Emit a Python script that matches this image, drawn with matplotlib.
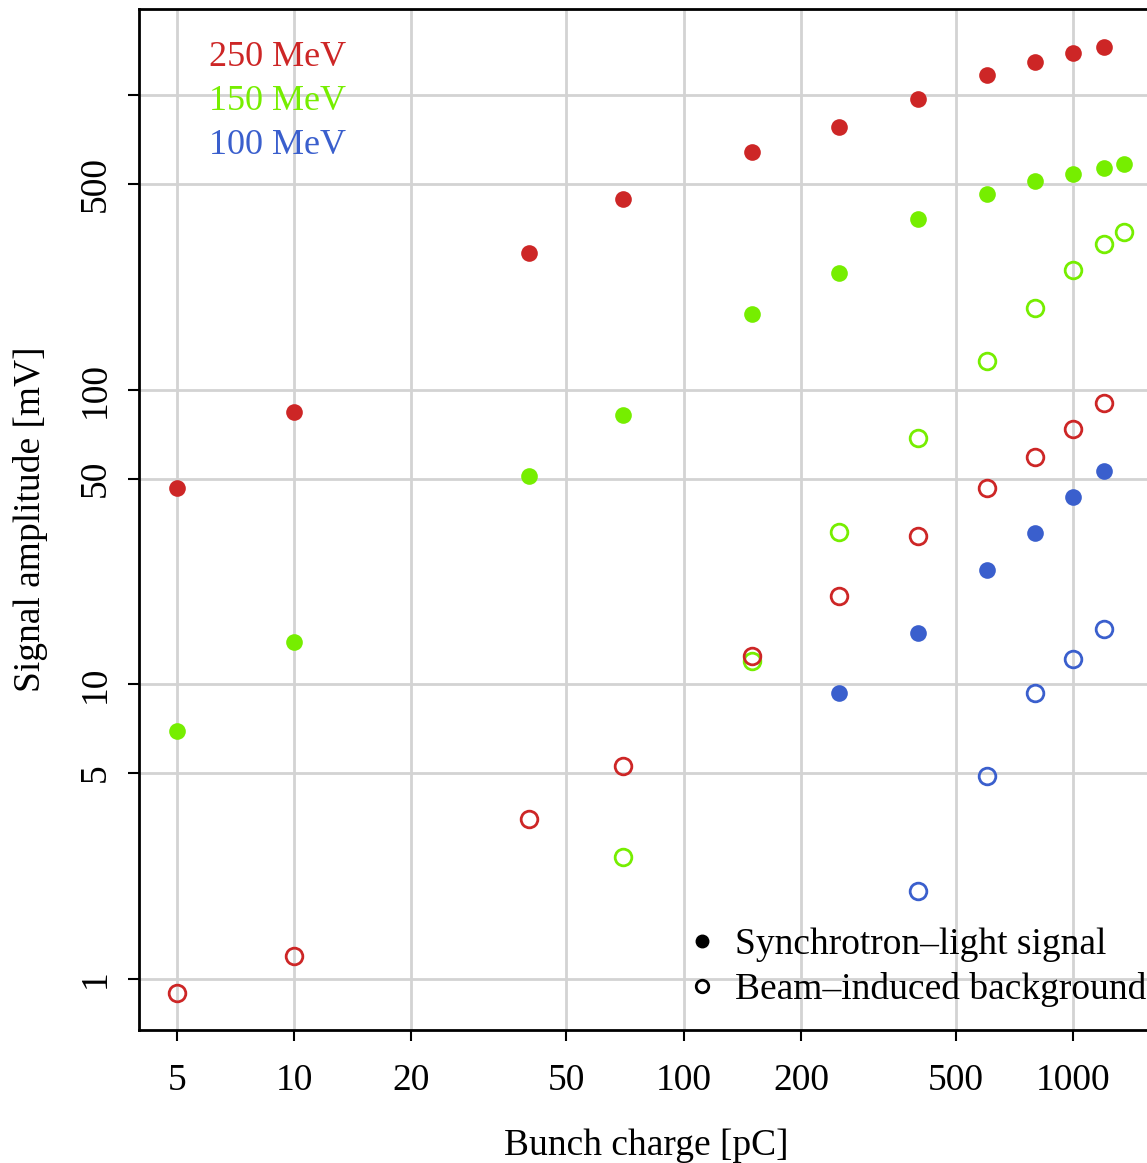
import numpy as np
import matplotlib.pyplot as plt

plt.rcParams['font.family'] = ['Liberation Serif', 'DejaVu Serif']

# Cores (R: firebrick3, chartreuse2, royalblue3)
c250 = '#CD2626'
c150 = '#76EE00'
c100 = '#3A5FCD'

# Dados: carga [pC] e amplitude [mV]
q250 = [5, 10, 40, 70, 150, 250, 400, 600, 800, 1000, 1200]
sig250 = [46.5, 84, 292, 445, 643, 782, 973, 1174, 1300, 1394, 1461]
bg250 = [0.896, 1.2, 3.49, 5.29, 12.5, 20.0, 31.9, 46.5, 59.3, 73.7, 90.3]

q150 = [5, 10, 40, 70, 150, 250, 400, 600, 800, 1000, 1200, 1350]
sig150 = [6.95, 13.9, 51.1, 82.3, 181, 250, 381, 463, 513, 541, 567, 585]
q150_bg = [70, 150, 250, 400, 600, 800, 1000, 1200, 1350]
bg150 = [2.60, 12.0, 32.9, 68.7, 125.4, 190, 255, 313, 344]

q100 = [250, 400, 600, 800, 1000, 1200]
sig100 = [9.36, 14.96, 24.5, 32.7, 43.3, 53.1]
q100_bg = [400, 600, 800, 1000, 1200]
bg100 = [1.99, 4.89, 9.36, 12.2, 15.4]

xticks = [5, 10, 20, 50, 100, 200, 500, 1000]
yticks = [1, 5, 10, 50, 100, 500, 1000]
ytick_labels = ['1', '5', '10', '50', '100', '500', '']

fs = 27
ms = 12

fig = plt.figure(figsize=(11.47, 11.63), dpi=100)
ax = fig.add_axes([0.1212, 0.1144, 0.8838, 0.8779])

for x in xticks:
    ax.axvline(x, color='#D3D3D3', lw=2, zorder=0)
for y in yticks:
    ax.axhline(y, color='#D3D3D3', lw=2, zorder=0)

# Fundo induzido (abertos) e sinal (cheios)
ax.plot(q150_bg, bg150, 'o', ms=ms, mfc='none', mec=c150, mew=2)
ax.plot(q100_bg, bg100, 'o', ms=ms, mfc='none', mec=c100, mew=2)
ax.plot(q250, bg250, 'o', ms=ms, mfc='none', mec=c250, mew=2)
ax.plot(q250, sig250, 'o', ms=ms, color=c250, mec='none')
ax.plot(q150, sig150, 'o', ms=ms, color=c150, mec='none')
ax.plot(q100, sig100, 'o', ms=ms, color=c100, mec='none')

ax.set_xscale('log')
ax.set_yscale('log')
ax.set_xlim(3.995, 1601)
ax.set_ylim(0.671, 1967)
ax.minorticks_off()
ax.set_xticks(xticks)
ax.set_xticklabels([str(x) for x in xticks])
ax.set_yticks(yticks)
ax.set_yticklabels(ytick_labels, rotation=90, va='center')
ax.tick_params(axis='both', which='major', labelsize=fs, length=8, width=1.5,
               direction='out')
ax.tick_params(axis='x', pad=16)
ax.tick_params(axis='y', pad=11)
for s in ax.spines.values():
    s.set_linewidth(2)

ax.set_xlabel('Bunch charge [pC]', fontsize=fs, labelpad=22)
ax.set_ylabel('Signal amplitude [mV]', fontsize=fs, labelpad=22)

# Rótulos de energia no canto superior esquerdo
ax.text(0.204, 0.952, '250 MeV', color=c250, fontsize=26, ha='right', va='center',
        transform=ax.transAxes)
ax.text(0.204, 0.909, '150 MeV', color=c150, fontsize=26, ha='right', va='center',
        transform=ax.transAxes)
ax.text(0.204, 0.866, '100 MeV', color=c100, fontsize=26, ha='right', va='center',
        transform=ax.transAxes)

# Legenda dos símbolos
ax.plot([], [], 'o', color='black', ms=9, label='Synchrotron\u2013light signal')
ax.plot([], [], 'o', mfc='none', mec='black', mew=2, ms=9,
        label='Beam\u2013induced background')
handles, labels = ax.get_legend_handles_labels()
ax.legend(handles[-2:], labels[-2:], loc='lower left', bbox_to_anchor=(0.507, -0.007),
          frameon=False, fontsize=fs, handletextpad=0.4, labelspacing=0.26,
          handlelength=1.0, borderpad=0.3)

fig.savefig('out.png', dpi=100)
